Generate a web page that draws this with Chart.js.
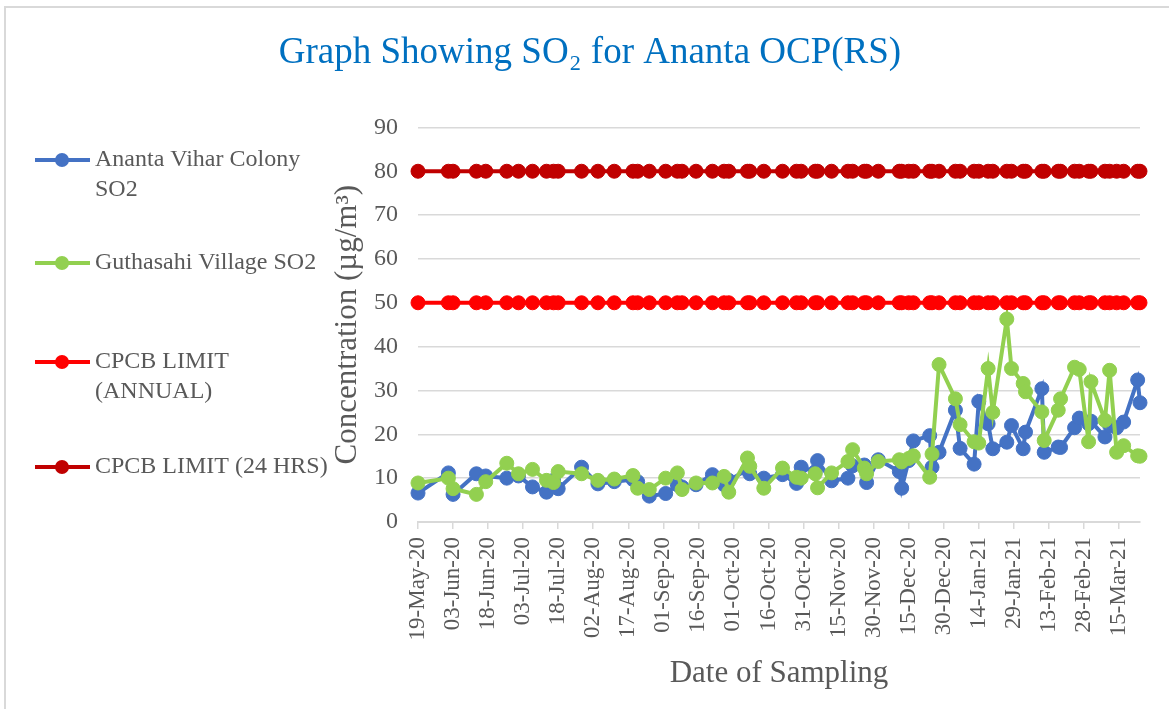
<!DOCTYPE html>
<html>
<head>
<meta charset="utf-8">
<script src="https://cdn.jsdelivr.net/npm/chart.js@4.4.1/dist/chart.umd.min.js"></script>
<style>
html, body { margin: 0; padding: 0; background: #fff; }
#wrap { width: 1169px; height: 709px; }
</style>
</head>
<body>
<div id="wrap"><canvas id="myChart" width="1169" height="709"></canvas></div>
<script>
// sampling dates (dd-Mon-yy) and SO2 readings, µg/m3
const sampleDates = [
    '19-May-20', '01-Jun-20', '03-Jun-20', '13-Jun-20', '17-Jun-20', '26-Jun-20',
    '01-Jul-20', '07-Jul-20', '13-Jul-20', '16-Jul-20', '18-Jul-20', '28-Jul-20',
    '04-Aug-20', '11-Aug-20', '19-Aug-20', '21-Aug-20', '26-Aug-20',
    '02-Sep-20', '07-Sep-20', '09-Sep-20', '15-Sep-20', '22-Sep-20', '27-Sep-20', '29-Sep-20',
    '07-Oct-20', '08-Oct-20', '14-Oct-20', '22-Oct-20', '28-Oct-20', '30-Oct-20',
    '05-Nov-20', '06-Nov-20', '12-Nov-20', '19-Nov-20', '21-Nov-20', '26-Nov-20', '27-Nov-20',
    '02-Dec-20', '11-Dec-20', '12-Dec-20', '15-Dec-20', '17-Dec-20', '24-Dec-20', '25-Dec-20', '28-Dec-20',
    '04-Jan-21', '06-Jan-21', '12-Jan-21', '14-Jan-21', '18-Jan-21', '20-Jan-21', '26-Jan-21', '28-Jan-21',
    '02-Feb-21', '03-Feb-21', '10-Feb-21', '11-Feb-21', '17-Feb-21', '18-Feb-21', '24-Feb-21', '26-Feb-21',
    '02-Mar-21', '03-Mar-21', '09-Mar-21', '11-Mar-21', '14-Mar-21', '17-Mar-21', '23-Mar-21', '24-Mar-21'
]
const anantaVihar = [
    6.6, 11.2, 6.3, 11.0, 10.5, 10.0,
    10.5, 8.0, 6.8, 9.5, 7.6, 12.5,
    8.7, 9.2, 9.7, 9.2, 5.9,
    6.5, 8.5, 8.0, 8.5, 10.8, 8.5, 9.5,
    11.9, 11.0, 10.0, 10.8, 8.8, 12.5,
    11.5, 14.0, 9.4, 10.0, 12.8, 13.0, 9.0,
    14.2, 11.5, 7.7, 14.0, 18.5, 19.7, 12.5, 15.9,
    25.5, 16.8, 13.2, 27.5, 22.4, 16.7, 18.2, 22.0,
    16.7, 20.5, 30.4, 15.9, 17.1, 17.0, 21.5, 23.7,
    22.4, 23.0, 19.4, 22.0, 21.5, 22.8, 32.4, 27.2
]
const guthasahi = [
    8.9, 10.0, 7.6, 6.3, 9.2, 13.4,
    11.0, 12.0, 9.5, 9.0, 11.5, 11.0,
    9.5, 9.8, 10.6, 7.7, 7.4,
    10.0, 11.2, 7.4, 8.9, 8.9, 10.4, 6.8,
    14.6, 12.7, 7.7, 12.3, 10.2, 10.0,
    11.0, 7.8, 11.2, 13.8, 16.5, 12.3, 11.0,
    13.8, 14.2, 13.7, 14.5, 15.1, 10.2, 15.5, 35.9,
    28.1, 22.2, 18.3, 18.0, 35.0, 25.0, 46.3, 35.0,
    31.6, 29.7, 25.1, 18.6, 25.5, 28.1, 35.3, 34.8,
    18.3, 32.0, 23.2, 34.6, 15.9, 17.4, 15.1, 15.0
]
const annualLimit = [
    50, 50, 50, 50, 50, 50,
    50, 50, 50, 50, 50, 50,
    50, 50, 50, 50, 50,
    50, 50, 50, 50, 50, 50, 50,
    50, 50, 50, 50, 50, 50,
    50, 50, 50, 50, 50, 50, 50,
    50, 50, 50, 50, 50, 50, 50, 50,
    50, 50, 50, 50, 50, 50, 50, 50,
    50, 50, 50, 50, 50, 50, 50, 50,
    50, 50, 50, 50, 50, 50, 50, 50
]
const dailyLimit = [
    80, 80, 80, 80, 80, 80,
    80, 80, 80, 80, 80, 80,
    80, 80, 80, 80, 80,
    80, 80, 80, 80, 80, 80, 80,
    80, 80, 80, 80, 80, 80,
    80, 80, 80, 80, 80, 80, 80,
    80, 80, 80, 80, 80, 80, 80, 80,
    80, 80, 80, 80, 80, 80, 80, 80,
    80, 80, 80, 80, 80, 80, 80, 80,
    80, 80, 80, 80, 80, 80, 80, 80
]
const seriesNames = [
    ['Ananta Vihar Colony', 'SO2'],
    ['Guthasahi Village SO2'],
    ['CPCB LIMIT', '(ANNUAL)'],
    ['CPCB LIMIT (24 HRS)']
]
const seriesColors = ['#4472C4', '#92D050', '#FF0000', '#C00000']
const months = ['Jan', 'Feb', 'Mar', 'Apr', 'May', 'Jun', 'Jul', 'Aug', 'Sep', 'Oct', 'Nov', 'Dec']

const DAY = 86400000
function toUTC(s) {
    const [d, m, y] = s.split('-')
    return Date.UTC(2000 + Number(y), months.indexOf(m), Number(d))
}
const startUTC = toUTC(sampleDates[0])
const dayOf = (s) => Math.round((toUTC(s) - startUTC) / DAY)
function dateLabel(day) {
    const dt = new Date(startUTC + day * DAY)
    const dd = String(dt.getUTCDate()).padStart(2, '0')
    return dd + '-' + months[dt.getUTCMonth()] + '-' + String(dt.getUTCFullYear()).slice(2)
}
const xs = sampleDates.map(dayOf)
const pts = (vals) => vals.map((v, i) => ({ x: xs[i], y: v }))

const serif = '"Liberation Serif", "Times New Roman", serif'
const grey = '#595959'

function series(i, vals, order) {
    return {
        label: seriesNames[i].join(' '),
        data: pts(vals),
        borderColor: seriesColors[i],
        backgroundColor: seriesColors[i],
        pointBackgroundColor: seriesColors[i],
        pointBorderColor: seriesColors[i],
        borderWidth: 4,
        pointRadius: 7,
        pointBorderWidth: 1,
        tension: 0,
        clip: false,
        order: order,
    }
}

// legend down the left side, plus the light frame
const sideLegend = {
    id: 'sideLegend',
    afterDraw(chart) {
        const ctx = chart.ctx
        const rows = [160, 263, 362, 467]
        ctx.save()
        chart.data.datasets.forEach((ds, i) => {
            const y = rows[i]
            ctx.strokeStyle = ds.borderColor
            ctx.lineWidth = 4
            ctx.beginPath()
            ctx.moveTo(35, y)
            ctx.lineTo(90, y)
            ctx.stroke()
            ctx.fillStyle = ds.borderColor
            ctx.beginPath()
            ctx.arc(62, y, 7, 0, Math.PI * 2)
            ctx.fill()
            ctx.fillStyle = grey
            ctx.font = '24px ' + serif
            ctx.textBaseline = 'middle'
            ctx.textAlign = 'left'
            seriesNames[i].forEach((line, k) => ctx.fillText(line, 95, y + k * 30))
        })
        ctx.strokeStyle = '#d9d9d9'
        ctx.lineWidth = 2
        ctx.beginPath()
        ctx.moveTo(5, 709)
        ctx.lineTo(5, 7)
        ctx.lineTo(1169, 7)
        ctx.stroke()
        ctx.restore()
    }
}

const ctx = document.getElementById('myChart').getContext('2d')
new Chart(ctx, {
    type: 'line',
    data: {
        datasets: [
            series(0, anantaVihar, 4),
            series(1, guthasahi, 3),
            series(2, annualLimit, 2),
            series(3, dailyLimit, 1),
        ],
    },
    options: {
        responsive: false,
        animation: false,
        layout: { padding: { left: 40, right: 29, top: 0, bottom: 0 } },
        plugins: {
            legend: { display: false },
            tooltip: { enabled: false },
            title: {
                display: true,
                text: 'Graph Showing SO\u2082 for Ananta OCP(RS)',
                color: '#0070C0',
                font: { family: serif, size: 37, weight: 'normal' },
                padding: { top: 31, bottom: 52 },
            },
        },
        scales: {
            x: {
                type: 'linear',
                min: 0,
                max: xs[xs.length - 1],
                afterFit: (scale) => { scale.height = 187 },
                grid: {
                    drawOnChartArea: false,
                    drawTicks: true,
                    tickLength: 7,
                    color: '#d9d9d9',
                    lineWidth: 1.5,
                },
                border: { display: true, color: '#d9d9d9', width: 2 },
                ticks: {
                    stepSize: 15,
                    includeBounds: false,
                    autoSkip: false,
                    minRotation: 90,
                    maxRotation: 90,
                    padding: 8,
                    color: grey,
                    font: { family: serif, size: 23 },
                    callback: (v) => dateLabel(v),
                },
                title: {
                    display: true,
                    text: 'Date of Sampling',
                    color: grey,
                    font: { family: serif, size: 31 },
                    padding: { top: 0, bottom: 17 },
                },
            },
            y: {
                min: 0,
                max: 90,
                afterFit: (scale) => { scale.width = 378 },
                grid: { color: '#d9d9d9', lineWidth: 1.5, drawTicks: false },
                border: { display: false },
                ticks: {
                    stepSize: 10,
                    padding: 20,
                    color: grey,
                    font: { family: serif, size: 24 },
                },
                title: {
                    display: true,
                    text: 'Concentration (\u00b5g/m\u00b3)',
                    color: grey,
                    font: { family: serif, size: 31 },
                    padding: { top: 289, bottom: 0 },
                },
            },
        },
    },
    plugins: [sideLegend],
})
</script>
</body>
</html>
